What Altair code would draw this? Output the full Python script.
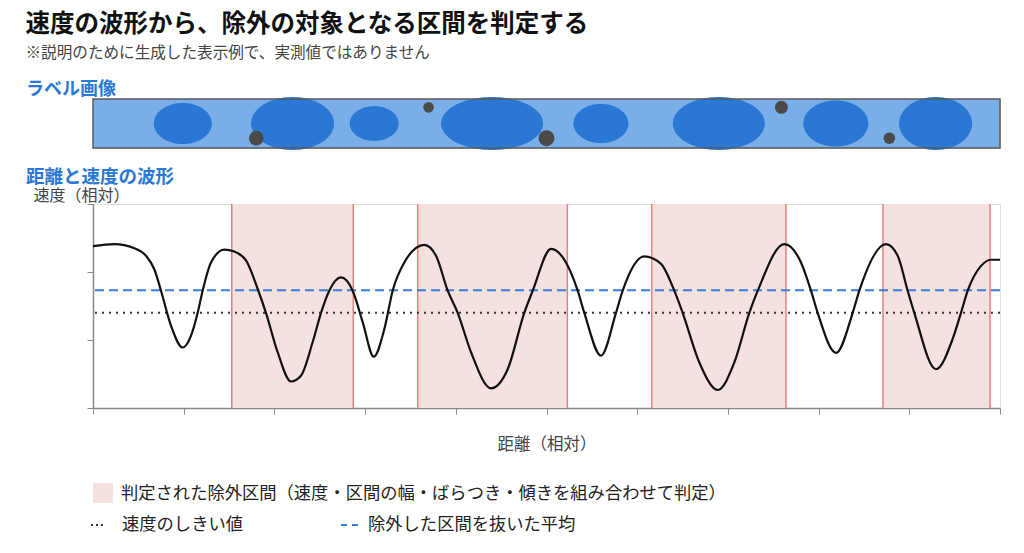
import altair as alt
import pandas as pd

# ---------------- text ----------------
title_text = "速度の波形から、除外の対象となる区間を判定する"
subtitle_text = "※説明のために生成した表示例で、実測値ではありません"
section_strip = "ラベル画像"
section_wave = "距離と速度の波形"
x_title = "距離（相対）"
y_title = "速度（相対）"
legend_band = "判定された除外区間（速度・区間の幅・ばらつき・傾きを組み合わせて判定）"
legend_threshold = "速度のしきい値"
legend_mean = "除外した区間を抜いた平均"

# ---------------- wave data ----------------
dist = [0, 2.35, 4.55, 5.84, 6.76, 7.50, 8.60, 9.89, 10.80, 11.54, 12.09, 13.01,
        14.48, 15.58, 16.87, 18.16, 19.07, 20.36, 21.83, 22.93, 24.22, 25.14,
        26.05, 27.34, 28.63, 29.74, 30.95, 32.12, 33.04, 34.32, 36.53, 37.82,
        39.11, 40.21, 41.68, 43.88, 45.72, 47.55, 48.48, 50.50, 52.15, 53.44,
        54.17, 56.01, 57.66, 58.40, 60.78, 62.62, 64.09, 65.01, 66.85, 68.88,
        70.71, 72.36, 73.29, 76.22, 78.06, 79.16, 79.90, 81.92, 83.76, 84.49,
        87.43, 88.72, 89.82, 90.55, 92.94, 94.78, 95.70, 96.44, 97.91, 99.01, 100]
speed = [2.38, 2.41, 2.35, 2.24, 2.04, 1.725, 1.21, 0.89, 1.06, 1.40, 1.725, 2.14,
         2.33, 2.30, 2.17, 1.75, 1.40, 0.82, 0.39, 0.475, 0.97, 1.40,
         1.725, 1.92, 1.725, 1.26, 0.755, 1.16, 1.725, 2.14, 2.40, 2.24,
         1.725, 1.40, 0.82, 0.29, 0.57, 1.40, 1.725, 2.34, 2.14, 1.725,
         1.40, 0.77, 1.40, 1.725, 2.23, 2.12, 1.725, 1.40, 0.67, 0.265,
         0.67, 1.40, 1.725, 2.41, 2.14, 1.725, 1.40, 0.81, 1.40, 1.725,
         2.41, 2.24, 1.725, 1.40, 0.57, 1.015, 1.40, 1.725, 2.09, 2.18, 2.18]

band_start = [15.3, 35.8, 61.6, 87.1]
band_end = [28.7, 52.3, 76.4, 98.9]
threshold = [1.40]
mean_excluded = [1.73]
x_ticks = [0, 10, 20, 30, 40, 50, 60, 70, 80, 90, 100]
y_ticks = [0, 1, 2, 3]

# ---------------- label image data ----------------
strip_start = [0]
strip_end = [100]
ellipse_x = [9.9, 22.0, 31.0, 44.0, 56.0, 69.0, 81.9, 92.9]
ellipse_w = [6.4, 9.15, 5.4, 11.25, 6.06, 10.14, 7.17, 8.05]
ellipse_h = [0.84, 1.08, 0.71, 1.08, 0.80, 1.08, 0.94, 1.08]
dot_x = [18.0, 37.0, 50.0, 75.9, 87.8]
dot_y = [0.20, 0.83, 0.20, 0.83, 0.20]
dot_size = [216, 113, 254, 167, 133]

FONT = "Noto Sans CJK JP"
BLUE_SECTION = "#2a78d4"
BAND_FILL = "#f5e1e0"
BAND_EDGE = "#e0827d"

W = 907
H_STRIP = 49
H_WAVE = 204

xscale = alt.Scale(domain=[0, 100], nice=False, zero=False)
ystrip = alt.Scale(domain=[0, 1], nice=False, zero=False)
yscale = alt.Scale(domain=[0, 3], nice=False, zero=False)

x_axis = alt.Axis(values=x_ticks, labels=False, grid=False, tickSize=6,
                  tickColor="#888", domainColor="#888", domainWidth=1.5,
                  title=x_title, titleFontSize=16.5, titleFontWeight="normal",
                  titleColor="#444", titlePadding=22, titleFont=FONT)
y_axis = alt.Axis(values=y_ticks, labels=False, grid=False, tickSize=6,
                  tickColor="#888", domainColor="#888", domainWidth=1.5,
                  title=y_title, titleAngle=0, titleAlign="left",
                  titleBaseline="middle", titleX=-60, titleY=-9,
                  titleFontSize=16, titleFontWeight="normal", titleColor="#444",
                  titleFont=FONT)

# ---------------- strip (label image) panel ----------------
strip_df = pd.DataFrame({"x0": strip_start, "x1": strip_end, "y0": [0], "y1": [1]})
ell_df = pd.DataFrame({"id": list(range(len(ellipse_x))), "cx": ellipse_x,
                       "w": ellipse_w, "h": ellipse_h})
dot_df = pd.DataFrame({"x": dot_x, "y": dot_y, "s": dot_size})

strip_fill = alt.Chart(strip_df).mark_rect(fill="#7aaee8").encode(
    x=alt.X("x0:Q", scale=xscale, axis=None), x2="x1:Q",
    y=alt.Y("y0:Q", scale=ystrip, axis=None), y2="y1:Q")

ellipses = alt.Chart(ell_df).transform_calculate(
    t="sequence(0, PI + 0.0001, PI / 60)"
).transform_flatten(["t"]).transform_calculate(
    ex="datum.cx + datum.w / 2 * cos(datum.t)",
    ey1="0.5 + datum.h / 2 * sin(datum.t)",
    ey2="0.5 - datum.h / 2 * sin(datum.t)",
).mark_area(color="#2a78d4", opacity=1).encode(
    x=alt.X("ex:Q", scale=xscale, axis=None),
    y=alt.Y("ey1:Q", scale=ystrip, axis=None, stack=None),
    y2="ey2:Q",
    detail="id:N")

dots = alt.Chart(dot_df).mark_circle(color="#4a4a48", opacity=1).encode(
    x=alt.X("x:Q", scale=xscale, axis=None),
    y=alt.Y("y:Q", scale=ystrip, axis=None),
    size=alt.Size("s:Q", scale=None, legend=None))

strip_border = alt.Chart(strip_df).mark_rect(filled=False, stroke="#5a5a5a",
                                             strokeWidth=1.5).encode(
    x=alt.X("x0:Q", scale=xscale, axis=None), x2="x1:Q",
    y=alt.Y("y0:Q", scale=ystrip, axis=None), y2="y1:Q")

strip_label = alt.Chart(pd.DataFrame({"t": [section_strip]})).mark_text(
    align="left", baseline="middle", fontSize=18, fontWeight="bold",
    color=BLUE_SECTION, font=FONT).encode(
    x=alt.value(-67), y=alt.value(-9), text="t:N")

strip_panel = alt.layer(strip_fill, ellipses, dots, strip_border, strip_label).properties(
    width=W, height=H_STRIP)

# ---------------- wave panel ----------------
wave_df = pd.DataFrame({"d": dist, "v": speed})
band_df = pd.DataFrame({"s": band_start, "e": band_end})

bands = alt.Chart(band_df).mark_rect(color=BAND_FILL, opacity=1).encode(
    x=alt.X("s:Q", scale=xscale, axis=x_axis), x2="e:Q")

band_edges = alt.Chart(band_df).transform_fold(["s", "e"], as_=["k", "pos"]).mark_rule(
    color=BAND_EDGE, strokeWidth=1.5).encode(
    x=alt.X("pos:Q", scale=xscale, axis=x_axis))

thr = alt.Chart(pd.DataFrame({"v": threshold})).mark_rule(
    color="#333", strokeDash=[2, 5], strokeWidth=2).encode(
    y=alt.Y("v:Q", scale=yscale, axis=y_axis))

mean_line = alt.Chart(pd.DataFrame({"v": mean_excluded})).mark_rule(
    color="#3b7dd8", strokeDash=[9, 5], strokeWidth=2).encode(
    y=alt.Y("v:Q", scale=yscale, axis=y_axis))

wave = alt.Chart(wave_df).mark_line(color="#111", strokeWidth=2.2,
                                    interpolate="monotone").encode(
    x=alt.X("d:Q", scale=xscale, axis=x_axis),
    y=alt.Y("v:Q", scale=yscale, axis=y_axis))

wave_label = alt.Chart(pd.DataFrame({"t": [section_wave]})).mark_text(
    align="left", baseline="middle", fontSize=18.5, fontWeight="bold",
    color=BLUE_SECTION, font=FONT).encode(
    x=alt.value(-67), y=alt.value(-27), text="t:N")

# legend (drawn by hand)
leg_square = alt.Chart(pd.DataFrame({"t": [legend_band]})).mark_rect(
    color=BAND_FILL).encode(x=alt.value(0), x2=alt.value(20),
                            y=alt.value(279), y2=alt.value(299))
leg_band_text = alt.Chart(pd.DataFrame({"t": [legend_band]})).mark_text(
    align="left", baseline="middle", fontSize=17.3, color="#222", font=FONT).encode(
    x=alt.value(28), y=alt.value(290), text="t:N")
leg_dot = alt.Chart(pd.DataFrame({"t": [legend_threshold]})).mark_rule(
    color="#333", strokeDash=[2, 3], strokeWidth=2).encode(
    x=alt.value(-2), x2=alt.value(13), y=alt.value(321))
leg_dot_text = alt.Chart(pd.DataFrame({"t": [legend_threshold]})).mark_text(
    align="left", baseline="middle", fontSize=17.3, color="#222", font=FONT).encode(
    x=alt.value(29), y=alt.value(321), text="t:N")
leg_dash = alt.Chart(pd.DataFrame({"t": [legend_mean]})).mark_rule(
    color="#3b7dd8", strokeDash=[6, 5], strokeWidth=2).encode(
    x=alt.value(248), x2=alt.value(266), y=alt.value(321))
leg_dash_text = alt.Chart(pd.DataFrame({"t": [legend_mean]})).mark_text(
    align="left", baseline="middle", fontSize=17.3, color="#222", font=FONT).encode(
    x=alt.value(275), y=alt.value(321), text="t:N")

wave_panel = alt.layer(bands, band_edges, thr, mean_line, wave, wave_label,
                       leg_square, leg_band_text, leg_dot, leg_dot_text,
                       leg_dash, leg_dash_text).properties(width=W, height=H_WAVE)

chart = alt.vconcat(strip_panel, wave_panel, spacing=56, bounds="flush").properties(
    title=alt.TitleParams(text=title_text, subtitle=subtitle_text, anchor="start",
                          frame="bounds", fontSize=24.5, fontWeight="bold",
                          color="#111", font=FONT, subtitleFont=FONT,
                          subtitleFontSize=15.6, subtitleColor="#444",
                          subtitlePadding=8, offset=18),
    padding={"left": 17, "top": 4, "right": 5, "bottom": 5},
    background="white",
).configure_view(stroke=None).configure(font=FONT)

chart.save("out.html", embed_options={"renderer": "svg", "actions": False})
